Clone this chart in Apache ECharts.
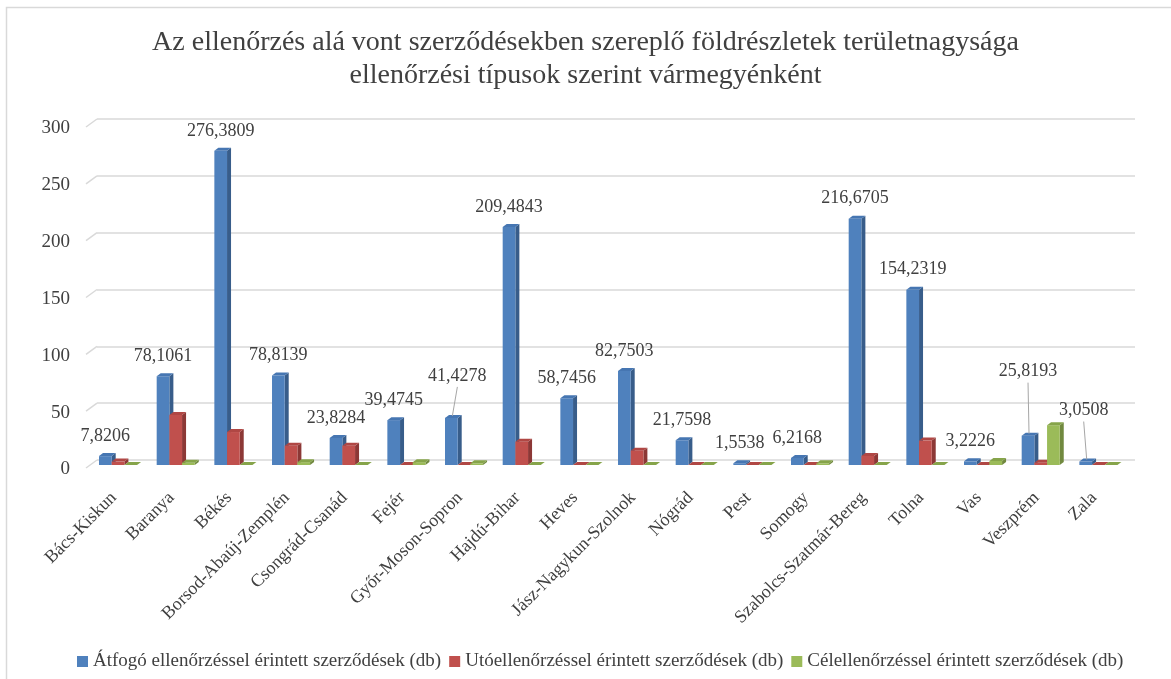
<!DOCTYPE html>
<html>
<head>
<meta charset="utf-8">
<script src="https://cdn.jsdelivr.net/npm/echarts@6/dist/echarts.min.js"></script>
<style>
  html, body { margin: 0; padding: 0; background: #fff; }
  #chart { width: 1171px; height: 679px; }
</style>
</head>
<body>
<div id="chart"></div>
<script>
  // vármegyék
  var counties = ['Bács-Kiskun', 'Baranya', 'Békés', 'Borsod-Abaúj-Zemplén', 'Csongrád-Csanád', 'Fejér',
    'Győr-Moson-Sopron', 'Hajdú-Bihar', 'Heves', 'Jász-Nagykun-Szolnok', 'Nógrád', 'Pest', 'Somogy',
    'Szabolcs-Szatmár-Bereg', 'Tolna', 'Vas', 'Veszprém', 'Zala'];
  var atfogo = [7.8206, 78.1061, 276.3809, 78.8139, 23.8284, 39.4745, 41.4278, 209.4843, 58.7456, 82.7503,
    21.7598, 1.5538, 6.2168, 216.6705, 154.2319, 3.2226, 25.8193, 3.0508];
  var utoell = [3, 44, 29, 17, 17, 0, 0, 20.5, 0, 12.6, 0, 0, 0, 8, 21.5, 0, 2, 0];
  var celell = [0, 2, 0, 2.5, 0, 2.5, 1.5, 0, 0, 0, 0, 0, 1.5, 0, 0, 3.5, 35, 0];
  var yTicks = [0, 50, 100, 150, 200, 250, 300];

  var seriesNames = ['Átfogó ellenőrzéssel érintett szerződések (db)',
    'Utóellenőrzéssel érintett szerződések (db)',
    'Célellenőrzéssel érintett szerződések (db)'];

  var palette = [
    { front: '#4F81BD', side: '#385D8A', top: '#4676B2' },
    { front: '#C0504D', side: '#8C3836', top: '#B04744' },
    { front: '#9BBB59', side: '#71893F', top: '#86A44A' }
  ];

  // címkék eltolása (vezetővonallal)
  var labelShift = {
    'Győr-Moson-Sopron': [6, -22],
    'Veszprém': [0, -44],
    'Zala': [-2, -31]
  };

  var FONT = '"Liberation Serif", "Times New Roman", serif';
  var TXT = '#404040';

  function fmt(v) {
    return v.toFixed(4).replace('.', ',');
  }

  function makeBar(idx, showLabel) {
    var c = palette[idx];
    return function (params, api) {
      var cat = api.value(0), v = api.value(1);
      var base = api.coord([cat, 0]);
      var top = api.coord([cat, v]);
      var band = api.size([1, 0])[0];
      var w = band * 0.22;
      var x0 = base[0] - band / 2 + band * 0.035 + idx * w;
      var yb = base[1] + 5, yt = top[1] + 5;
      var dx = 4, dy = 3;
      var children = [
        { type: 'polygon', shape: { points: [[x0 + w, yt], [x0 + w + dx, yt - dy], [x0 + w + dx, yb - dy], [x0 + w, yb]] }, style: { fill: c.side } },
        { type: 'rect', shape: { x: x0, y: yt, width: w, height: yb - yt }, style: { fill: c.front } },
        { type: 'polygon', shape: { points: [[x0, yt], [x0 + dx, yt - dy], [x0 + w + dx, yt - dy], [x0 + w, yt]] }, style: { fill: c.top } }
      ];
      if (showLabel) {
        var sh = labelShift[counties[cat]] || [0, 0];
        var cx = x0 + w / 2;
        var lx = cx + sh[0], ly = yt - 20 + sh[1];
        if (sh[1] < -10) {
          children.push({ type: 'line', shape: { x1: lx, y1: ly + 11, x2: cx + 1, y2: yt - 2 }, style: { stroke: '#A6A6A6', lineWidth: 1 } });
        }
        children.push({
          type: 'text', x: lx, y: ly,
          style: { text: fmt(v), align: 'center', verticalAlign: 'middle', fontSize: 18, fontFamily: FONT, fill: TXT }
        });
      }
      return { type: 'group', children: children };
    };
  }

  function wallLines(params, api) {
    var p = api.coord([0, api.value(1)]);
    var x = params.coordSys.x;
    return {
      type: 'line',
      shape: { x1: x - 11, y1: p[1] + 8, x2: x, y2: p[1] },
      style: { stroke: '#D9D9D9', lineWidth: 1.5 }
    };
  }

  var ec = echarts.init(document.getElementById('chart'));

  var series = [{
    type: 'custom',
    name: 'wall',
    silent: true,
    renderItem: wallLines,
    data: yTicks.map(function (v) { return [0, v]; }),
    z: 1
  }];
  [atfogo, utoell, celell].forEach(function (arr, i) {
    series.push({
      type: 'custom',
      name: seriesNames[i],
      renderItem: makeBar(i, i === 0),
      itemStyle: { color: palette[i].front },
      encode: { x: 0, y: 1 },
      data: arr.map(function (v, k) { return [k, v]; }),
      z: 2 + i
    });
  });

  var option = {
    backgroundColor: '#fff',
    animation: false,
    title: {
      text: 'Az ellenőrzés alá vont szerződésekben szereplő földrészletek területnagysága\nellenőrzési típusok szerint vármegyénként',
      left: 'center',
      top: 21,
      textStyle: { fontFamily: FONT, fontSize: 28, fontWeight: 'normal', color: TXT, lineHeight: 33, align: 'center' }
    },
    graphic: [{
      type: 'rect',
      shape: { x: 6.5, y: 7.5, width: 1200, height: 700 },
      style: { fill: 'none', stroke: '#D9D9D9', lineWidth: 1.5 },
      silent: true
    }],
    legend: {
      data: seriesNames,
      top: 647,
      left: 72,
      icon: 'rect',
      itemWidth: 11,
      itemHeight: 11,
      itemGap: 8,
      textStyle: { fontFamily: FONT, fontSize: 19, color: TXT }
    },
    grid: { left: 97, right: 36, top: 119, bottom: 219 },
    xAxis: {
      type: 'category',
      data: counties,
      axisLine: { show: false },
      axisTick: { show: false },
      axisLabel: {
        interval: 0,
        rotate: 45,
        margin: 23,
        padding: [0, 17, 0, 0],
        fontFamily: FONT,
        fontSize: 18,
        color: TXT
      }
    },
    yAxis: {
      type: 'value',
      min: 0,
      max: 300,
      interval: 50,
      axisLine: { show: false },
      axisTick: { show: false },
      splitLine: { lineStyle: { color: '#D9D9D9', width: 1.5 } },
      axisLabel: {
        margin: 27,
        verticalAlign: 'top',
        fontFamily: FONT,
        fontSize: 19,
        color: TXT
      }
    },
    series: series
  };

  ec.setOption(option);
</script>
</body>
</html>
